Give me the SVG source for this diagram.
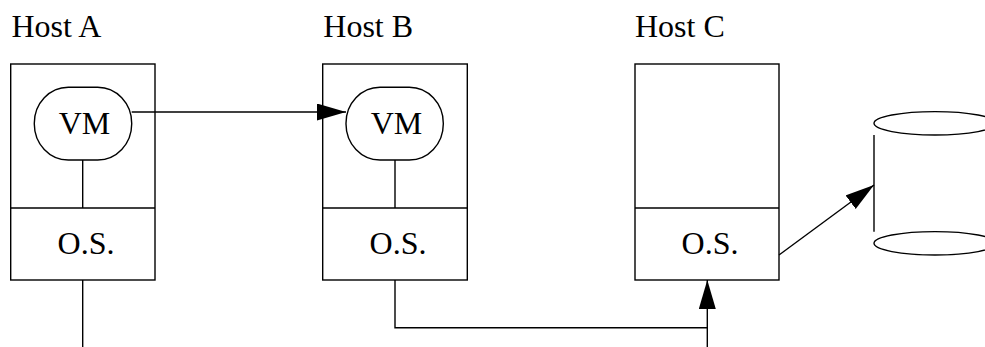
<svg xmlns="http://www.w3.org/2000/svg" width="985" height="347" viewBox="0 0 985 347">
<style>
.ln{fill:none;stroke:#000;stroke-width:1.4}
.bx{fill:#fff;stroke:#000;stroke-width:1.4}
.t{font-family:"Liberation Serif","Times New Roman",serif;font-size:32px;fill:#000}
.c{text-anchor:middle}
</style>
<defs>
<marker id="ah" markerUnits="userSpaceOnUse" markerWidth="30" markerHeight="18" refX="29" refY="8.5" orient="auto">
<path d="M0,0 L29,8.5 L0,17 Z" fill="#000"/>
</marker>
</defs>
<rect width="985" height="347" fill="#fff"/>
<g id="hostA">
<text class="t" x="11.5" y="37">Host A</text>
<rect class="bx" x="10.7" y="64" width="144.3" height="216"/>
<line class="ln" x1="10.7" y1="208" x2="155" y2="208"/>
<line class="ln" x1="82.7" y1="160" x2="82.7" y2="208"/>
<rect class="bx" x="34.3" y="87.3" width="97.4" height="72.7" rx="34" ry="36"/>
<text class="t c" x="84.5" y="134">VM</text>
<text class="t c" x="86" y="254">O.S.</text>
</g>
<g id="hostB">
<text class="t" x="323.3" y="37">Host B</text>
<rect class="bx" x="322.7" y="64" width="144.6" height="216"/>
<line class="ln" x1="322.7" y1="208" x2="467.3" y2="208"/>
<line class="ln" x1="395" y1="160" x2="395" y2="208"/>
<rect class="bx" x="346" y="87.3" width="97.3" height="72.7" rx="34" ry="36"/>
<text class="t c" x="396.5" y="134">VM</text>
<text class="t c" x="398" y="254">O.S.</text>
</g>
<g id="hostC">
<text class="t" x="635" y="37">Host C</text>
<rect class="bx" x="635" y="64" width="144" height="216"/>
<line class="ln" x1="635" y1="208" x2="779" y2="208"/>
<text class="t c" x="710" y="254">O.S.</text>
</g>
<g id="disk">
<ellipse class="ln" cx="935" cy="123.3" rx="61" ry="11.7"/>
<line class="ln" x1="874" y1="135" x2="874" y2="231.7"/>
<ellipse class="ln" cx="935" cy="243.3" rx="61" ry="11.7"/>
</g>
<g id="connectors">
<line class="ln" x1="131.7" y1="112" x2="346" y2="112" marker-end="url(#ah)"/>
<line class="ln" x1="82.7" y1="280" x2="82.7" y2="347"/>
<polyline class="ln" points="395,280 395,327.7 707.3,327.7"/>
<line class="ln" x1="707.3" y1="347" x2="707.3" y2="280" marker-end="url(#ah)"/>
<line class="ln" x1="779" y1="255" x2="874" y2="185" marker-end="url(#ah)"/>
</g>
</svg>
